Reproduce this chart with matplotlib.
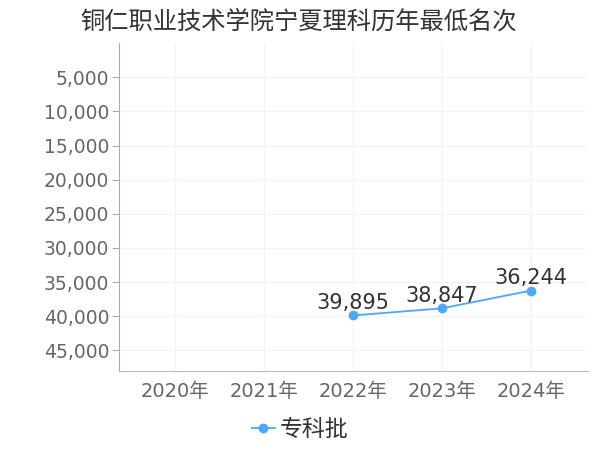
import matplotlib
matplotlib.use("Agg")
import matplotlib.pyplot as plt
from matplotlib.ticker import FuncFormatter

plt.rcParams['font.family'] = ['DejaVu Sans', 'Noto Sans CJK SC']

years = ["2020年", "2021年", "2022年", "2023年", "2024年"]
series_name = "专科批"
series_years = ["2022年", "2023年", "2024年"]
series_values = [39895, 38847, 36244]
y_ticks = [5000, 10000, 15000, 20000, 25000, 30000, 35000, 40000, 45000]

line_color = "#4da6ff"

fig = plt.figure(figsize=(6, 4.5), dpi=100)
ax = fig.add_axes([0.198, 0.176, 0.782, 0.728])

xs = [years.index(y) for y in series_years]
ax.plot(xs, series_values, color=line_color, lw=1.3, marker="o", ms=6,
        label=series_name, zorder=3)
for x, v in zip(xs, series_values):
    ax.annotate(f"{v:,}", (x, v), xytext=(0, 2), textcoords="offset points",
                ha="center", va="bottom", fontsize=15, color="#333333")

ax.set_xticks(range(len(years)))
ax.set_xticklabels(years)
ax.set_xlim(-0.63, 4.64)
ax.set_yticks(y_ticks)
ax.yaxis.set_major_formatter(FuncFormatter(lambda v, p: f"{int(v):,}"))
ax.set_ylim(48000, 0)

ax.grid(True, color="#f3f3f3", lw=0.8)
ax.set_axisbelow(True)
for s in ["top", "right"]:
    ax.spines[s].set_visible(False)
ax.spines["left"].set_color("#aaaaaa")
ax.spines["bottom"].set_color("#bbbbbb")
ax.tick_params(axis="y", length=5, color="#aaaaaa", labelsize=13.5,
               labelcolor="#666666", pad=2)
ax.tick_params(axis="x", length=0, labelsize=14, labelcolor="#666666", pad=8)

fig.suptitle("铜仁职业技术学院宁夏理科历年最低名次", x=0.497, y=0.978,
             fontsize=17.5, color="#333333")

fig.legend(loc="lower center", bbox_to_anchor=(0.5, -0.025), frameon=False,
           fontsize=16.5, handlelength=1.0, handletextpad=0.2, labelcolor="#333333")

fig.savefig("out.png", dpi=100)
